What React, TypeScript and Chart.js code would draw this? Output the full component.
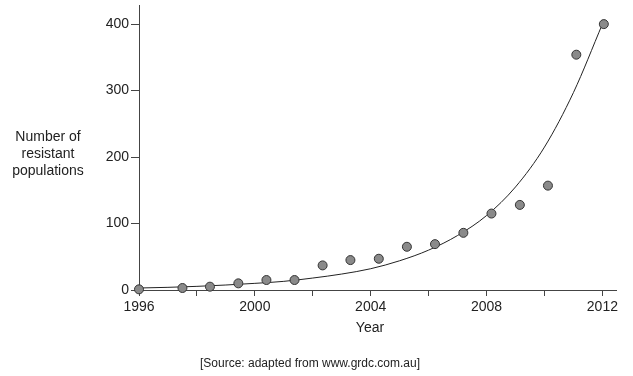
import React, { useEffect, useRef } from 'react';
import { Chart, registerables } from 'chart.js';

Chart.register(...registerables);

const pointYears = [1996.0, 1997.5, 1998.45, 1999.43, 2000.4, 2001.37, 2002.34, 2003.3, 2004.28, 2005.25, 2006.22, 2007.2, 2008.17, 2009.15, 2010.12, 2011.1, 2012.05];
const pointValues = [1, 3, 5, 10, 15, 15, 37, 45, 47, 65, 69, 86, 115, 128, 157, 354, 400];

const curveYears = [1996, 1997, 1998, 1999, 2000, 2001, 2002, 2003, 2004, 2005, 2006, 2007, 2008, 2009, 2010, 2011, 2012];
const curveValues = [3, 4, 5.5, 7.5, 10, 13, 18, 24, 32, 44, 60, 82, 112, 155, 215, 297, 400];

const xTicks = [1996, 1998, 2000, 2002, 2004, 2006, 2008, 2010, 2012];
const xLabelEvery = 4;
const yTicks = [0, 100, 200, 300, 400];

const yTitleLines = ['Number of', 'resistant', 'populations'];
const xTitle = 'Year';
const sourceText = '[Source: adapted from www.grdc.com.au]';

const FONT = "'Liberation Sans', Arial, sans-serif";
const TEXT = '#222';
const AXIS = '#444';

const textPlugin = {
  id: 'extraText',
  afterDraw(chart: any) {
    const ctx = chart.ctx;
    ctx.save();
    ctx.fillStyle = TEXT;
    ctx.textAlign = 'center';
    ctx.textBaseline = 'alphabetic';
    ctx.font = `14px ${FONT}`;
    const ys = [140.5, 157.5, 174.5];
    yTitleLines.forEach((l, i) => ctx.fillText(l, 48, ys[i]));
    ctx.fillText(xTitle, 370, 331.5);
    ctx.font = `12px ${FONT}`;
    ctx.fillText(sourceText, 310, 367);
    ctx.restore();
  },
};

export default function App() {
  const ref = useRef<HTMLCanvasElement>(null);
  useEffect(() => {
    document.body.style.margin = '0';
    const chart = new Chart(ref.current as HTMLCanvasElement, {
      type: 'scatter',
      data: {
        datasets: [
          {
            label: 'trend',
            data: curveYears.map((x, i) => ({ x, y: curveValues[i] })),
            showLine: true,
            borderColor: '#222',
            borderWidth: 1,
            pointRadius: 0,
            cubicInterpolationMode: 'monotone',
            clip: false,
            order: 2,
          } as any,
          {
            label: 'points',
            data: pointYears.map((x, i) => ({ x, y: pointValues[i] })),
            showLine: false,
            pointRadius: 4.5,
            pointBackgroundColor: '#8a8a8a',
            pointBorderColor: '#333',
            pointBorderWidth: 1,
            clip: false,
            order: 1,
          } as any,
        ],
      },
      options: {
        animation: false,
        responsive: false,
        layout: { padding: { top: 4, right: 17, left: 0, bottom: 0 } },
        plugins: { legend: { display: false }, tooltip: { enabled: false } },
        scales: {
          x: {
            type: 'linear',
            min: 1996,
            max: 2012.47,
            afterBuildTicks: (s: any) => {
              s.ticks = xTicks.map((v) => ({ value: v }));
            },
            afterFit: (s: any) => {
              s.height = 86;
            },
            ticks: {
              autoSkip: false,
              maxRotation: 0,
              padding: 3,
              color: TEXT,
              font: { family: FONT, size: 14 },
              callback: (v: any) => (Number(v) % xLabelEvery === 0 ? String(v) : ''),
            },
            grid: { drawOnChartArea: false, tickLength: 6, tickColor: AXIS, tickWidth: 1 },
            border: { color: AXIS, width: 1 },
          },
          y: {
            type: 'linear',
            min: 0,
            max: 428,
            afterBuildTicks: (s: any) => {
              s.ticks = yTicks.map((v) => ({ value: v }));
            },
            afterFit: (s: any) => {
              s.width = 139;
              s.paddingTop = 0;
            },
            ticks: {
              padding: 2,
              color: TEXT,
              font: { family: FONT, size: 14 },
            },
            grid: { drawOnChartArea: false, tickLength: 8, tickColor: AXIS, tickWidth: 1 },
            border: { color: AXIS, width: 1 },
          },
        },
      },
      plugins: [textPlugin],
    });
    return () => chart.destroy();
  }, []);
  return (
    <div style={{ width: 633, height: 376 }}>
      <canvas ref={ref} width={633} height={376} />
    </div>
  );
}
